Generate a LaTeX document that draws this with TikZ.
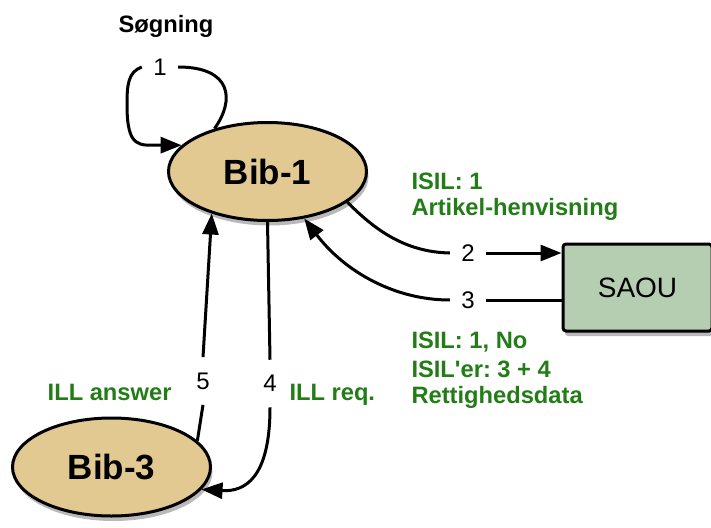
\documentclass[tikz,border=0pt]{standalone}
\usepackage{fontspec}
\setmainfont{Liberation Sans}
\usetikzlibrary{arrows.meta,shapes.geometric,shadows}
\definecolor{bibfill}{RGB}{226,201,146}
\definecolor{saoufill}{RGB}{181,205,176}
\definecolor{labelgreen}{RGB}{34,125,22}
\frenchspacing

\begin{document}
\begin{tikzpicture}[x=1pt,y=-1pt,line width=3pt,
		tip/.style={-{Triangle[length=21pt,width=16pt]}},
		lib/.style={ellipse,draw,fill=bibfill,minimum width=198pt,minimum height=98pt,inner sep=0pt,
			font=\fontsize{35}{40}\selectfont\bfseries,
			drop shadow={shadow xshift=2pt,shadow yshift=-5pt,opacity=.55}},
		box/.style={rectangle,draw,rounded corners=3pt,fill=saoufill,minimum width=149pt,minimum height=87pt,
			font=\fontsize{28}{32}\selectfont,
			drop shadow={shadow xshift=2pt,shadow yshift=-5pt,opacity=.55}},
		num/.style={inner xsep=10pt,inner ysep=14pt,font=\fontsize{24}{28}\selectfont},
		note/.style={text=labelgreen,inner sep=0pt,align=left,font=\fontsize{23.7}{27}\selectfont\bfseries}]
		\useasboundingbox (0,0) rectangle (711,527);
		% nodes
		\node[lib](bib1) at (267.5,171.5) {Bib-1};
		\node[lib](bib3) at (111.5,467) {Bib-3};
		\node[box](saou) at (637.5,287.5) {SAOU};
		% step numbers
		\node[num](n1) at (160,67) {1};
		\node[num](n2) at (468,253) {2};
		\node[num](n3) at (468,300) {3};
		\node[num](n4) at (270,383.5) {4};
		\node[num](n5) at (203,381) {5};
		% labels (base = last line)
		\node[anchor=base west,inner sep=0pt,font=\fontsize{23.7}{27}\selectfont\bfseries](sog) at (117,33) {Søgning};
		\node[note,anchor=base west](isil1) at (410,215) {ISIL: 1\\[-1pt]Artikel-henvisning};
		\node[note,anchor=base west](isil2) at (410,403) {ISIL: 1, No\\[2pt]ISIL\textquotesingle er: 3 + 4\\[-1pt]Rettighedsdata};
		\node[note,anchor=base east](ans) at (173,400) {ILL answer};
		\node[note,anchor=base west](req) at (288,400) {ILL req.};
		% 1: search loop
		\draw (bib1.141) .. controls (235,100) and (232,67) .. (n1.east);
		\draw[tip] (n1.west) .. controls (128,72) and (127,85) .. (127,105) .. controls (127,150) and (140,145) .. (bib1.163);
		% 2 and 3
		\draw (bib1.-21) .. controls (375,230) and (405,252) .. (n2.west);
		\draw[tip] (n2.east) -- (saou.west |- n2);
		\draw (saou.west |- n3) -- (n3.east);
		\draw[tip] (n3.west) .. controls (395,300) and (345,272) .. (bib1.-52);
		% 4 and 5
		\draw (bib1.south) -- (n4.north);
		\draw[tip] (n4.south) .. controls (270,478) and (245,492) .. (bib3.-14);
		\draw (bib3.17) -- (n5.south);
		\draw[tip] (n5.north) -- (bib1.217);
	\end{tikzpicture}
\end{document}
